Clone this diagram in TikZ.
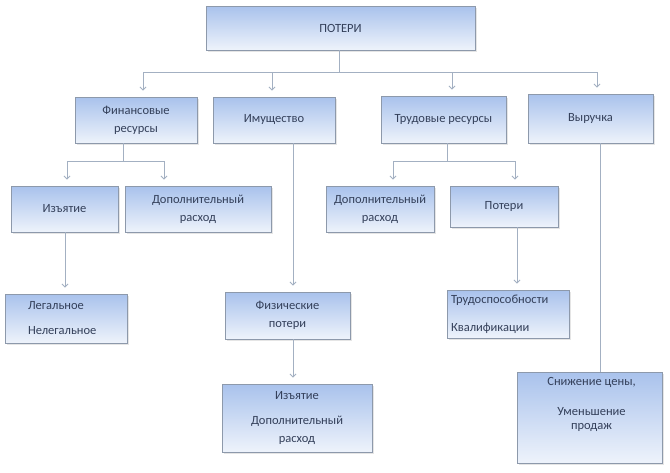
\documentclass[tikz,border=0pt]{standalone}
\usepackage{fontspec}
\setmainfont{Carlito}
\usetikzlibrary{arrows.meta,shadows}
\definecolor{boxtop}{HTML}{A9C2EC}
\definecolor{boxbot}{HTML}{EEF3FB}
\definecolor{boxline}{HTML}{8D99AB}
\definecolor{connc}{HTML}{A3B0C2}
\definecolor{txtc}{HTML}{34405A}
\begin{document}
\begin{tikzpicture}[x=1pt,y=-1pt,
  box/.style={draw=boxline, line width=0.8pt, top color=boxtop, bottom color=boxbot,
    inner sep=0pt, text=txtc, font=\fontsize{12.5}{18}\selectfont, align=center,
    drop shadow={opacity=0.2, shadow xshift=1.5pt, shadow yshift=-1.5pt, fill=black!50}},
  boxtext/.style={inner sep=0pt, text=txtc, font=\fontsize{12.5}{14}\selectfont, align=center},
  conn/.style={draw=connc, line width=0.9pt},
  arr/.style={conn, -{Straight Barb[length=3pt,width=6pt]}, shorten >=6pt}]
\useasboundingbox (0,0) rectangle (670,472);
\fill[white] (0,0) rectangle (670,472);

% top
\node[box, minimum width=269pt, minimum height=44pt] (top) at (340.5,28) {ПОТЕРИ};
% level 1
\node[box, minimum width=122pt, minimum height=46pt] (fin) at (136,120) {Финансовые\\ресурсы};
\node[box, minimum width=122pt, minimum height=46pt] (imu) at (274,120) {Имущество};
\node[box, minimum width=125pt, minimum height=47pt] (trud) at (443.5,119.5) {Трудовые ресурсы};
\node[box, minimum width=125pt, minimum height=49pt] (vyr) at (590.5,118.5) {Выручка};
% level 2
\node[box, minimum width=107pt, minimum height=46pt] (izy) at (64.5,209) {Изъятие};
\node[box, minimum width=146pt, minimum height=46pt] (dop1) at (198,209) {Дополнительный\\расход};
\node[box, minimum width=108pt, minimum height=46pt] (dop2) at (380,209) {Дополнительный\\расход};
\node[box, minimum width=108pt, minimum height=41pt] (pot) at (504,206.5) {Потери};
% level 3
\node[box, minimum width=122pt, minimum height=49pt, align=left, text width=76pt, inner xsep=23pt] (leg) at (66,318.5) {Легальное\\[7pt]Нелегальное};
\node[box, minimum width=125pt, minimum height=47pt] (fiz) at (287.5,315.5) {Физические\\потери};
\node[box, minimum width=122pt, minimum height=48pt, align=left, text width=114pt, inner xsep=4pt] (trsp) at (508,314) {Трудоспособности\\[10pt]Квалификации};
\node[box, minimum width=150pt, minimum height=68pt] (izy2) at (297,418) {Изъятие\\[7pt]Дополнительный\\расход};
\node[box, minimum width=145pt, minimum height=91pt] (sniz) at (589.5,417.5) {};
\node[boxtext, anchor=north] (snizt) at ([xshift=2pt,yshift=-6pt]sniz.north) {Снижение цены,\\[16pt]Уменьшение\\продаж};

% connectors from top
\coordinate (j0) at (339,72);
\draw[conn] (top.south -| j0) -- (j0);
\draw[arr] (j0) -| ([xshift=7pt]fin.north);
\draw[arr] (j0) -| ([xshift=-2pt]imu.north);
\draw[arr] (j0) -| ([xshift=8.5pt]trud.north);
\draw[arr] (j0) -| ([xshift=6.5pt]vyr.north);

% financial
\coordinate (j1) at (123,161);
\draw[conn] (fin.south -| j1) -- (j1);
\draw[arr] (j1) -| ([xshift=2.5pt]izy.north);
\draw[arr] (j1) -| ([xshift=-34pt]dop1.north);

% labour
\coordinate (j2) at (447,161);
\draw[conn] (trud.south -| j2) -- (j2);
\draw[arr] (j2) -| ([xshift=13pt]dop2.north);
\draw[arr] (j2) -| ([xshift=11pt]pot.north);

% vertical links
\coordinate (a1) at ([xshift=0.5pt]izy.south);
\draw[arr] (a1) -- (a1 |- leg.north);
\coordinate (a2) at ([xshift=19pt]imu.south);
\draw[arr] (a2) -- (a2 |- fiz.north);
\coordinate (a3) at ([xshift=5.5pt]fiz.south);
\draw[arr] (a3) -- (a3 |- izy2.north);
\coordinate (a4) at ([xshift=13pt]pot.south);
\draw[arr] (a4) -- (a4 |- trsp.north);
\coordinate (a5) at ([xshift=9.5pt]vyr.south);
\draw[conn] (a5) -- (a5 |- sniz.north);
\end{tikzpicture}
\end{document}
